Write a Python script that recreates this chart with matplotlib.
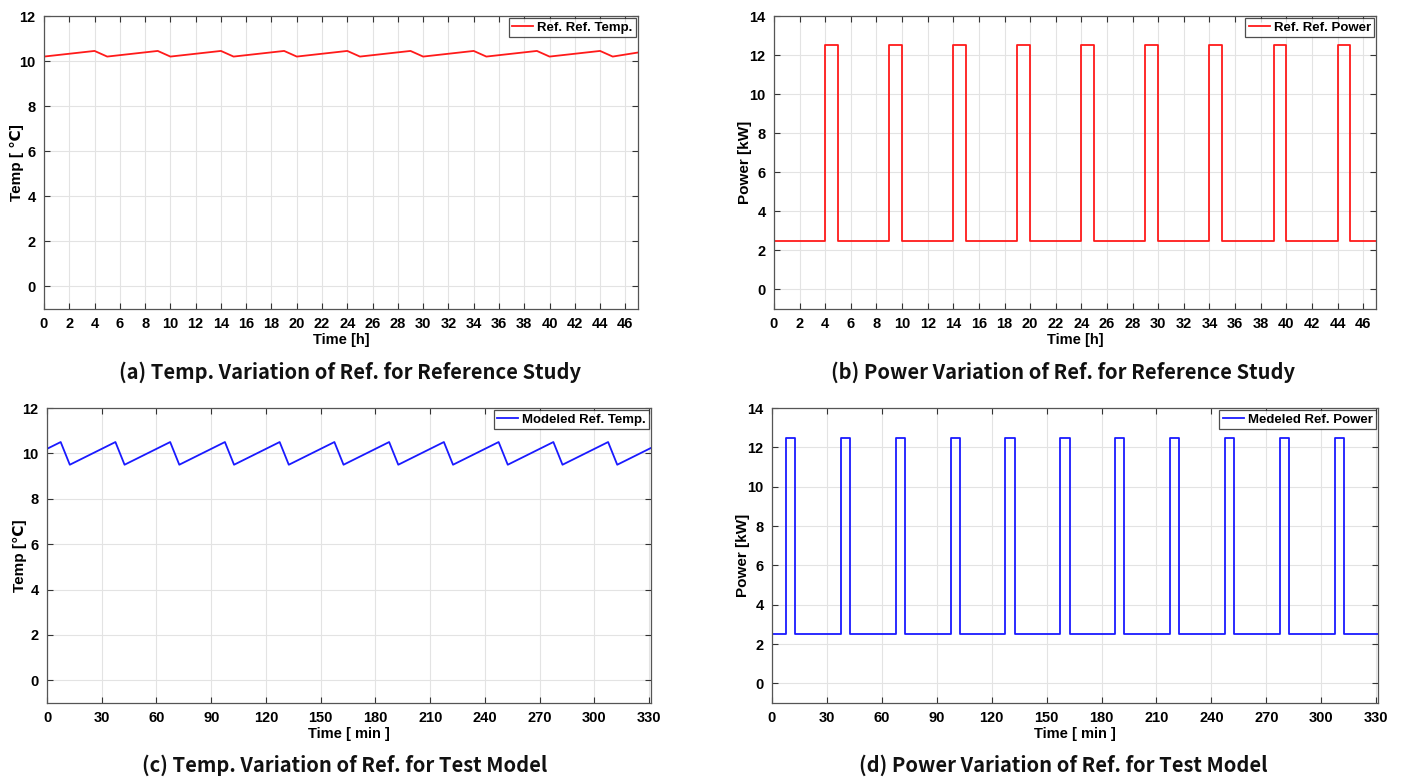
import matplotlib
matplotlib.use("Agg")
import matplotlib.pyplot as plt

# ---------------- data ----------------
# (a) reference study temperature [C] vs time [h]
ref_time_h = [0, 4, 5, 9, 10, 14, 15, 19, 20, 24, 25, 29, 30, 34, 35, 39, 40, 44, 45, 47]
ref_temp = [10.2, 10.45, 10.2, 10.45, 10.2, 10.45, 10.2, 10.45, 10.2, 10.45,
            10.2, 10.45, 10.2, 10.45, 10.2, 10.45, 10.2, 10.45, 10.2, 10.38]

# (b) reference study power [kW] (step, value holds until next time)
ref_pow_time_h = [0, 4, 5, 9, 10, 14, 15, 19, 20, 24, 25, 29, 30, 34, 35, 39, 40, 44, 45, 47]
ref_power = [2.5, 12.5, 2.5, 12.5, 2.5, 12.5, 2.5, 12.5, 2.5, 12.5,
             2.5, 12.5, 2.5, 12.5, 2.5, 12.5, 2.5, 12.5, 2.5, 2.5]

# (c) modeled temperature [C] vs time [min]
mod_time_min = [0, 7.5, 12.5, 37.5, 42.5, 67.5, 72.5, 97.5, 102.5, 127.5, 132.5,
                157.5, 162.5, 187.5, 192.5, 217.5, 222.5, 247.5, 252.5, 277.5, 282.5,
                307.5, 312.5, 331]
mod_temp = [10.2, 10.5, 9.5, 10.5, 9.5, 10.5, 9.5, 10.5, 9.5, 10.5, 9.5,
            10.5, 9.5, 10.5, 9.5, 10.5, 9.5, 10.5, 9.5, 10.5, 9.5,
            10.5, 9.5, 10.24]

# (d) modeled power [kW] (step)
mod_pow_time_min = [0, 7.5, 12.5, 37.5, 42.5, 67.5, 72.5, 97.5, 102.5, 127.5, 132.5,
                    157.5, 162.5, 187.5, 192.5, 217.5, 222.5, 247.5, 252.5, 277.5, 282.5,
                    307.5, 312.5, 331]
mod_power = [2.5, 12.5, 2.5, 12.5, 2.5, 12.5, 2.5, 12.5, 2.5, 12.5, 2.5,
             12.5, 2.5, 12.5, 2.5, 12.5, 2.5, 12.5, 2.5, 12.5, 2.5,
             12.5, 2.5, 2.5]

hour_ticks = list(range(0, 47, 2))
min_ticks = list(range(0, 331, 30))
temp_ticks = [0, 2, 4, 6, 8, 10, 12]
power_ticks = [0, 2, 4, 6, 8, 10, 12, 14]

captions = ["(a) Temp. Variation of Ref. for Reference Study",
            "(b) Power Variation of Ref. for Reference Study",
            "(c) Temp. Variation of Ref. for Test Model",
            "(d) Power Variation of Ref. for Test Model"]

# ---------------- style ----------------
TICKFONT = ['Liberation Sans Narrow', 'Liberation Sans', 'DejaVu Sans']
CAPFONT = ['Noto Sans CJK KR', 'DejaVu Sans']
plt.rcParams['font.family'] = TICKFONT

fig = plt.figure(figsize=(14.01, 7.80), dpi=100)

W, H = 1401.0, 780.0
def ax_rect(l, r, t, b):
    return [l / W, 1 - b / H, (r - l) / W, (b - t) / H]

ax_a = fig.add_axes(ax_rect(44, 638, 16, 309))
ax_b = fig.add_axes(ax_rect(774, 1376, 16, 309))
ax_c = fig.add_axes(ax_rect(47, 651, 408, 703))
ax_d = fig.add_axes(ax_rect(772, 1378, 408, 703))

RED = '#ff1a1a'
BLUE = '#1a1aff'

def style(ax, xticks, yticks, xlim, ylim, xlabel, ylabel, ylab_x):
    ax.set_xlim(*xlim)
    ax.set_ylim(*ylim)
    ax.set_xticks(xticks)
    ax.set_yticks(yticks)
    ax.grid(True, color='#e3e3e3', linewidth=0.8)
    ax.set_axisbelow(True)
    for s in ax.spines.values():
        s.set_color('#555555')
        s.set_linewidth(0.9)
    ax.tick_params(direction='in', top=True, right=True, length=4,
                   color='#333333', labelsize=10.5, pad=6)
    for lab in ax.get_xticklabels() + ax.get_yticklabels():
        lab.set_fontweight('bold')
        lab.set_family(TICKFONT)
    ax.set_xlabel(xlabel, fontsize=10.5, fontweight='bold', labelpad=1, family=TICKFONT)
    ax.set_ylabel(ylabel, fontsize=11, fontweight='bold', family=TICKFONT)
    ax.yaxis.set_label_coords(ylab_x, 0.5)

def legend(ax):
    leg = ax.legend(loc='upper right', frameon=True, fancybox=False,
                    borderaxespad=0.15, handlelength=1.6, handletextpad=0.3,
                    borderpad=0.25, prop={'family': TICKFONT, 'weight': 'bold', 'size': 9.5})
    leg.get_frame().set_edgecolor('#222222')
    leg.get_frame().set_linewidth(0.9)

# (a)
ax_a.plot(ref_time_h, ref_temp, color=RED, lw=1.3, label='Ref. Ref. Temp.')
style(ax_a, hour_ticks, temp_ticks, (0, 47), (-1, 12), 'Time [h]', 'Temp [ \u2103]', -0.034)
legend(ax_a)

# (b)
ax_b.step(ref_pow_time_h, ref_power, where='post', color=RED, lw=1.3, label='Ref. Ref. Power')
style(ax_b, hour_ticks, power_ticks, (0, 47), (-1, 14), 'Time [h]', 'Power [kW]', -0.037)
legend(ax_b)

# (c)
ax_c.plot(mod_time_min, mod_temp, color=BLUE, lw=1.3, label='Modeled Ref. Temp.')
style(ax_c, min_ticks, temp_ticks, (0, 331), (-1, 12), 'Time [ min ]', 'Temp [\u2103]', -0.033)
legend(ax_c)

# (d)
ax_d.step(mod_pow_time_min, mod_power, where='post', color=BLUE, lw=1.3, label='Medeled Ref. Power')
style(ax_d, min_ticks, power_ticks, (0, 331), (-1, 14), 'Time [ min ]', 'Power [kW]', -0.036)
legend(ax_d)

# captions
cap_pos = [(350, 372), (1063, 372), (345, 765), (1063, 765)]
for (cx, cy), txt in zip(cap_pos, captions):
    fig.text(cx / W, 1 - cy / H, txt, ha='center', va='center', fontsize=14.5,
             fontweight='bold', family=CAPFONT, color='#111111')

fig.savefig('out.png', dpi=100)
